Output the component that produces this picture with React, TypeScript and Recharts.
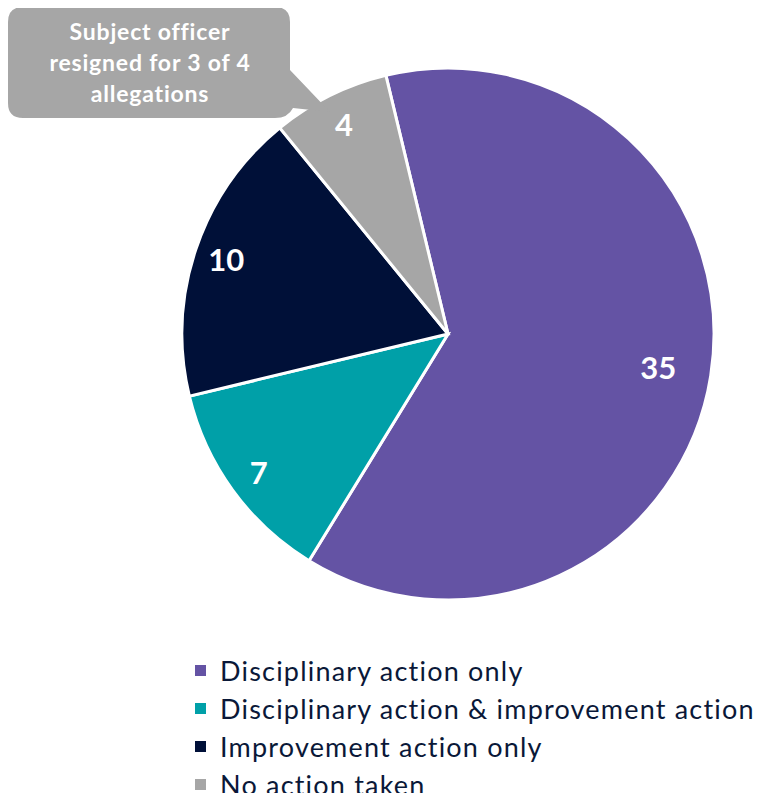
import React from "react";
import { PieChart, Pie, Cell, Legend } from "recharts";

const categories = [
  "Disciplinary action only",
  "Disciplinary action & improvement action",
  "Improvement action only",
  "No action taken",
];
const values = [35, 7, 10, 4];
const colors = ["#6453A4", "#00A0A8", "#001038", "#A6A6A6"];
const calloutLines = ["Subject officer", "resigned for 3 of 4", "allegations"];

const data = categories.map((name, i) => ({ name, value: values[i] }));

const FONT = "Lato, 'Open Sans', sans-serif";
const RAD = Math.PI / 180;

const renderLabel = (props: any) => {
  const { cx, cy, midAngle, outerRadius, value, percent } = props;
  const r = outerRadius * (percent > 0.5 ? 0.8 : 0.88);
  const x = cx + r * Math.cos(-midAngle * RAD);
  const y = cy + r * Math.sin(-midAngle * RAD);
  return (
    <text
      x={x}
      y={y}
      fill="#FFFFFF"
      textAnchor="middle"
      dominantBaseline="central"
      fontFamily={FONT}
      fontWeight={700}
      fontSize={31}
    >
      {value}
    </text>
  );
};

const renderLegend = () => (
  <div style={{ fontFamily: FONT }}>
    {data.map((d, i) => (
      <div
        key={d.name}
        style={{
          display: "flex",
          alignItems: "center",
          height: 38,
          fontSize: 27,
          letterSpacing: 1.2,
          color: "#0A1838",
          whiteSpace: "nowrap",
        }}
      >
        <span
          style={{
            display: "inline-block",
            width: 11,
            height: 11,
            background: colors[i],
            marginRight: 14,
          }}
        />
        {d.name}
      </div>
    ))}
  </div>
);

export default function App() {
  return (
    <div style={{ position: "relative", width: 748, height: 785 }}>
      <PieChart width={748} height={785}>
        <Pie
          data={data}
          dataKey="value"
          nameKey="name"
          cx={435}
          cy={321}
          outerRadius={266}
          startAngle={103.5}
          endAngle={-256.5}
          stroke="#FFFFFF"
          strokeWidth={3}
          label={renderLabel}
          labelLine={false}
          isAnimationActive={false}
        >
          {data.map((d, i) => (
            <Cell key={d.name} fill={colors[i]} />
          ))}
        </Pie>
        <Legend
          content={renderLegend}
          wrapperStyle={{ position: "absolute", left: 187, top: 643, width: "auto" }}
        />
      </PieChart>
      <svg
        width={340}
        height={130}
        style={{ position: "absolute", left: 0, top: 0, pointerEvents: "none" }}
      >
        <path
          d="M 15 -1 L 267 -1 Q 282 -1 282 14 L 282 62 L 322 104 L 285 100 Q 280 110 267 110 L 15 110 Q 0 110 0 95 L 0 14 Q 0 -1 15 -1 Z"
          fill="#A6A6A6"
        />
        {calloutLines.map((t, i) => (
          <text
            key={t}
            x={142}
            y={32 + i * 31}
            textAnchor="middle"
            fill="#FFFFFF"
            fontFamily={FONT}
            fontWeight={700}
            fontSize={23}
            letterSpacing={0.8}
          >
            {t}
          </text>
        ))}
      </svg>
    </div>
  );
}
